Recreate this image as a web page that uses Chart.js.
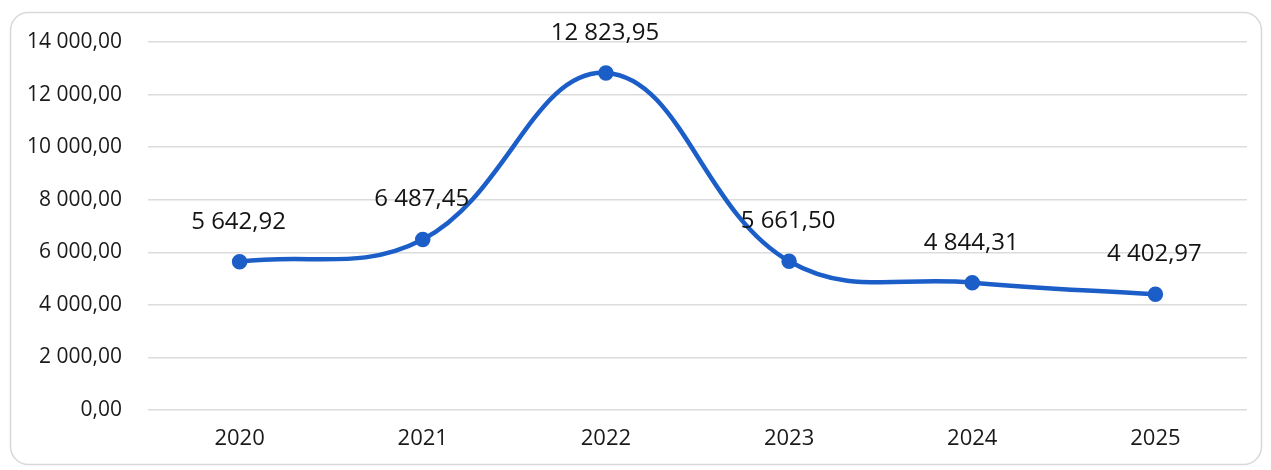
<!DOCTYPE html>
<html>
<head>
<meta charset="utf-8">
<script src="https://cdn.jsdelivr.net/npm/chart.js@4/dist/chart.umd.min.js"></script>
<style>
html,body{margin:0;padding:0;background:#fff;}
#wrap{width:1271px;height:470px;position:relative;}
</style>
</head>
<body>
<div id="wrap"><canvas id="c" width="1271" height="470"></canvas></div>
<script>
const categories = ['2020','2021','2022','2023','2024','2025'];
const values = [5642.92, 6487.45, 12823.95, 5661.50, 4844.31, 4402.97];
const yTicks = [0, 2000, 4000, 6000, 8000, 10000, 12000, 14000];

function fmt(v){
  const parts = v.toFixed(2).split('.');
  parts[0] = parts[0].replace(/\B(?=(\d{3})+(?!\d))/g, ' ');
  return parts[0] + ',' + parts[1];
}

const FONT = '"Open Sans", Lato, sans-serif';

const framePlugin = {
  id: 'frame',
  beforeDraw(chart){
    const ctx = chart.ctx;
    ctx.save();
    ctx.strokeStyle = '#d9d9d9';
    ctx.lineWidth = 1.5;
    ctx.beginPath();
    ctx.roundRect(10.5, 12.5, 1251, 452, 18);
    ctx.stroke();
    ctx.restore();
  }
};

const labelPlugin = {
  id: 'labels',
  afterDatasetsDraw(chart){
    const ctx = chart.ctx;
    const meta = chart.getDatasetMeta(0);
    ctx.save();
    ctx.font = '24px ' + FONT;
    ctx.fillStyle = '#141414';
    ctx.textAlign = 'center';
    ctx.textBaseline = 'alphabetic';
    meta.data.forEach((pt, i) => {
      ctx.fillText(fmt(values[i]), pt.x - 1, pt.y - 33);
    });
    ctx.restore();
  }
};

new Chart(document.getElementById('c'), {
  type: 'line',
  data: {
    labels: categories,
    datasets: [{
      data: values,
      borderColor: '#1b5ec8',
      backgroundColor: '#1b5ec8',
      borderWidth: 4.5,
      pointRadius: 5.5,
      pointBackgroundColor: '#1b5ec8',
      pointBorderColor: '#1b5ec8',
      tension: 0.4,
      cubicInterpolationMode: 'default',
      fill: false
    }]
  },
  options: {
    responsive: false,
    animation: false,
    devicePixelRatio: 1,
    layout: { padding: { left: 0, right: 24, top: 42, bottom: 5 } },
    plugins: { legend: { display: false }, tooltip: { enabled: false } },
    scales: {
      x: {
        offset: true,
        grid: { display: false, drawTicks: false },
        border: { display: false },
        ticks: { color: '#1a1a1a', font: { family: FONT, size: 22 }, padding: 16 },
        afterFit(s){ s.height = 55; }
      },
      y: {
        min: 0, max: 14000,
        afterBuildTicks(s){ s.ticks = yTicks.map(v => ({ value: v })); },
        grid: { color: '#dcdcdc', lineWidth: 1.5, drawTicks: false },
        border: { display: false },
        ticks: { color: '#1a1a1a', font: { family: FONT, size: 21 }, padding: 26, callback: v => fmt(v) },
        afterFit(s){ s.width = 148; }
      }
    }
  },
  plugins: [framePlugin, labelPlugin]
});
</script>
</body>
</html>
